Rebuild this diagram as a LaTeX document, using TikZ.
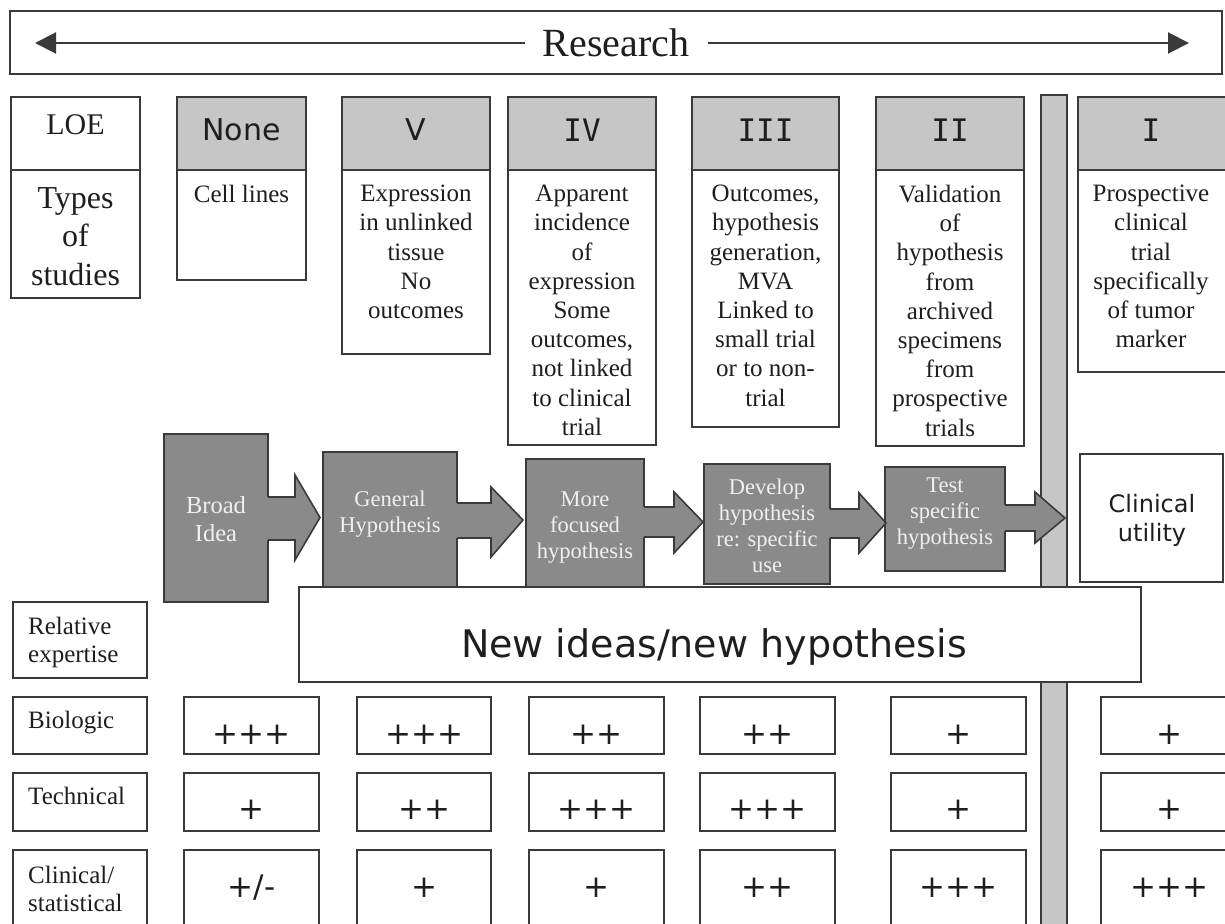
\documentclass[tikz,border=0pt]{standalone}
\usepackage{fontspec}
\setmainfont{Liberation Serif}
\newfontfamily\comicf{DejaVu Sans}
\newfontfamily\monof{DejaVu Sans Mono}
\usetikzlibrary{arrows.meta}
\definecolor{linecol}{HTML}{3A3A3A}
\definecolor{hdrfill}{HTML}{C6C6C6}
\definecolor{darkfill}{HTML}{8A8A8A}
\definecolor{txtlight}{HTML}{F0F0F0}
\definecolor{txtcol}{HTML}{1E1E1E}
\newcommand\rbx[6]{\node[#1, minimum width={#5-#3}, minimum height={#6-#4}] (#2) at (#3,#4) {};}
\newcommand\blockarr[8]{%
 \fill[darkfill] (#1-2.5,#2) -- (#4,#2) -- (#4,#5) -- (#7,#8) -- (#4,#6) -- (#4,#3) -- (#1-2.5,#3) -- cycle;
 \draw[edge] (#1,#2) -- (#4,#2) -- (#4,#5) -- (#7,#8) -- (#4,#6) -- (#4,#3) -- (#1,#3);}
\newcommand\cellbox[8]{\rbx{wbox}{#1}{#2}{#3}{#4}{#5}\node[plustxt] (#1t) at (#6,#7) {#8};}
\begin{document}
\begin{tikzpicture}[x=1pt,y=-1pt,
  edge/.style={draw=linecol, line width=1.6pt, line join=miter},
  box/.style={draw=linecol, line width=1.6pt, anchor=north west, inner sep=0pt, outer sep=0pt},
  wbox/.style={box, fill=white},
  hbox/.style={box, fill=hdrfill},
  dbox/.style={box, fill=darkfill},
  bodytxt/.style={align=center, inner sep=0pt, text=txtcol, anchor=north, font=\fontsize{25}{29.2}\selectfont},
  hdrsans/.style={inner sep=0pt, text=txtcol, font=\comicf\fontsize{30}{36}\selectfont},
  hdrmono/.style={inner sep=0pt, text=txtcol, font=\monof\fontsize{31}{36}\selectfont},
  dtxt/.style={align=center, inner sep=0pt, text=txtlight, font=\fontsize{22.5}{26}\selectfont},
  lbltxt/.style={align=left, inner sep=0pt, text=txtcol, anchor=north west, font=\fontsize{25}{28}\selectfont},
  plustxt/.style={inner sep=0pt, text=txtcol, anchor=base, font=\comicf\fontsize{31}{34}\selectfont},
  conn/.style={draw=linecol, line width=2pt}
]
\useasboundingbox (0,0) rectangle (1225,923);
\fill[white] (0,0) rectangle (1225,923);

% Research banner
\rbx{wbox}{banner}{10}{11}{1222}{74}
\node[inner xsep=18pt, inner ysep=0pt, text=txtcol, font=\fontsize{40}{48}\selectfont] (research) at (616,43) {Research};
\coordinate (lend) at (35,43);
\coordinate (rend) at (1189,43);
\draw[conn, -{Triangle[length=21pt,width=21pt]}] (research.west) -- (lend);
\draw[conn, -{Triangle[length=21pt,width=21pt]}] (research.east) -- (rend);

% vertical bar
\rbx{hbox}{bar}{1041}{95}{1067}{940}

% LOE column
\rbx{wbox}{loe}{11}{97}{140}{298}
\draw[edge] (11,170) -- (140,170);
\node[inner sep=0pt, text=txtcol, font=\fontsize{30}{36}\selectfont] (loeT) at (75.5,125) {LOE};
\node[align=center, inner sep=0pt, anchor=north, text=txtcol, font=\fontsize{32}{38.5}\selectfont] (typesT) at (75.5,187) {Types\\of\\studies};

% Level columns
\rbx{wbox}{bNone}{177}{170}{306}{280}
\rbx{hbox}{hNone}{177}{97}{306}{170}
\node[hdrsans] (tNone) at (241.5,130) {None};
\node[bodytxt] (xNone) at (241.5,185) {Cell lines};

\rbx{wbox}{bV}{342}{170}{490}{354}
\rbx{hbox}{hV}{342}{97}{490}{170}
\node[hdrsans] (tV) at (416,130) {V};
\node[bodytxt] (xV) at (416,185) {Expression\\in unlinked\\tissue\\No\\outcomes};

\rbx{wbox}{bIV}{508}{170}{656}{445}
\rbx{hbox}{hIV}{508}{97}{656}{170}
\node[hdrmono] (tIV) at (582,130) {IV};
\node[bodytxt] (xIV) at (582,185) {Apparent\\incidence\\of\\expression\\Some\\outcomes,\\not linked\\to clinical\\trial};

\rbx{wbox}{bIII}{692}{170}{839}{427}
\rbx{hbox}{hIII}{692}{97}{839}{170}
\node[hdrmono] (tIII) at (765.5,130) {III};
\node[bodytxt] (xIII) at (765.5,185) {Outcomes,\\hypothesis\\generation,\\MVA\\Linked to\\small trial\\or to non-\\trial};

\rbx{wbox}{bII}{876}{170}{1024}{446}
\rbx{hbox}{hII}{876}{97}{1024}{170}
\node[hdrmono] (tII) at (950,130) {II};
\node[bodytxt] (xII) at (950,185) {Validation\\of\\hypothesis\\from\\archived\\specimens\\from\\prospective\\trials};

\rbx{wbox}{bI}{1078}{170}{1240}{372}
\rbx{hbox}{hI}{1078}{97}{1240}{170}
\node[hdrmono] (tI) at (1151,130) {I};
\node[bodytxt] (xI) at (1151,185) {Prospective\\clinical\\trial\\specifically\\of tumor\\marker};

% Hypothesis chain
\rbx{dbox}{broad}{164}{434}{268}{602}
\rbx{dbox}{gen}{323}{452}{457}{588}
\rbx{dbox}{more}{526}{459}{644}{588}
\rbx{dbox}{dev}{704}{464}{830}{584}
\rbx{dbox}{test}{885}{467}{1005}{571}
\blockarr{268}{497}{540}{295}{475}{560}{320}{517.5}
\blockarr{457}{503}{538}{491}{487}{557}{523}{520}
\blockarr{644}{507}{537}{674}{492}{553}{703}{522}
\blockarr{830}{509}{538}{859}{493}{553}{886}{523}
\blockarr{1005}{505}{531}{1035}{492}{543}{1065}{518}
\node[dtxt, font=\fontsize{24.5}{28}\selectfont] (broadT) at (216,519) {Broad\\Idea};
\node[dtxt] (genT) at (390,514) {General\\Hypothesis};
\node[dtxt] (moreT) at (585,528) {More\\focused\\hypothesis};
\node[dtxt] (devT) at (767,526) {Develop\\hypothesis\\re: specific\\use};
\node[dtxt] (testT) at (945,514) {Test\\specific\\hypothesis};

\rbx{wbox}{clin}{1080}{454}{1223}{582}
\node[align=center, inner sep=0pt, text=txtcol, font=\comicf\fontsize{24}{29}\selectfont] (clinT) at (1152,520) {Clinical\\utility};

% New ideas box
\rbx{wbox}{newid}{299}{587}{1141}{682}
\node[inner sep=0pt, anchor=base, text=txtcol, font=\comicf\fontsize{38}{44}\selectfont] (newT) at (714,657) {New ideas/new hypothesis};

% Row labels
\rbx{wbox}{lRel}{13}{602}{147}{678}
\node[lbltxt] (relT) at (28,617) {Relative\\expertise};
\rbx{wbox}{lBio}{13}{697}{147}{754}
\node[lbltxt] (bioT) at (28,711) {Biologic};
\rbx{wbox}{lTec}{13}{773}{147}{831}
\node[lbltxt] (tecT) at (28,787) {Technical};
\rbx{wbox}{lCli}{13}{850}{147}{935}
\node[lbltxt] (cliT) at (28,866) {Clinical/\\statistical};

% Cells row 1 (Biologic)
\cellbox{ba}{184}{697}{319}{754}{251.5}{744}{+++}
\cellbox{bb}{357}{697}{491}{754}{424}{744}{+++}
\cellbox{bc}{529}{697}{664}{754}{596.5}{744}{++}
\cellbox{bd}{700}{697}{835}{754}{767.5}{744}{++}
\cellbox{be}{891}{697}{1026}{754}{958.5}{744}{+}
\cellbox{bf}{1101}{697}{1240}{754}{1169}{744}{+}
% Row 2 (Technical)
\cellbox{ta}{184}{773}{319}{831}{251.5}{819}{+}
\cellbox{tb}{357}{773}{491}{831}{424}{819}{++}
\cellbox{tc}{529}{773}{664}{831}{596.5}{819}{+++}
\cellbox{td}{700}{773}{835}{831}{767.5}{819}{+++}
\cellbox{te}{891}{773}{1026}{831}{958.5}{819}{+}
\cellbox{tf}{1101}{773}{1240}{831}{1169}{819}{+}
% Row 3 (Clinical/statistical)
\cellbox{ca}{184}{850}{319}{935}{251.5}{897}{+/-}
\cellbox{cb}{357}{850}{491}{935}{424}{897}{+}
\cellbox{cc}{529}{850}{664}{935}{596.5}{897}{+}
\cellbox{cd}{700}{850}{835}{935}{767.5}{897}{++}
\cellbox{ce}{891}{850}{1026}{935}{958.5}{897}{+++}
\cellbox{cf}{1101}{850}{1240}{935}{1169}{897}{+++}
\end{tikzpicture}
\end{document}
